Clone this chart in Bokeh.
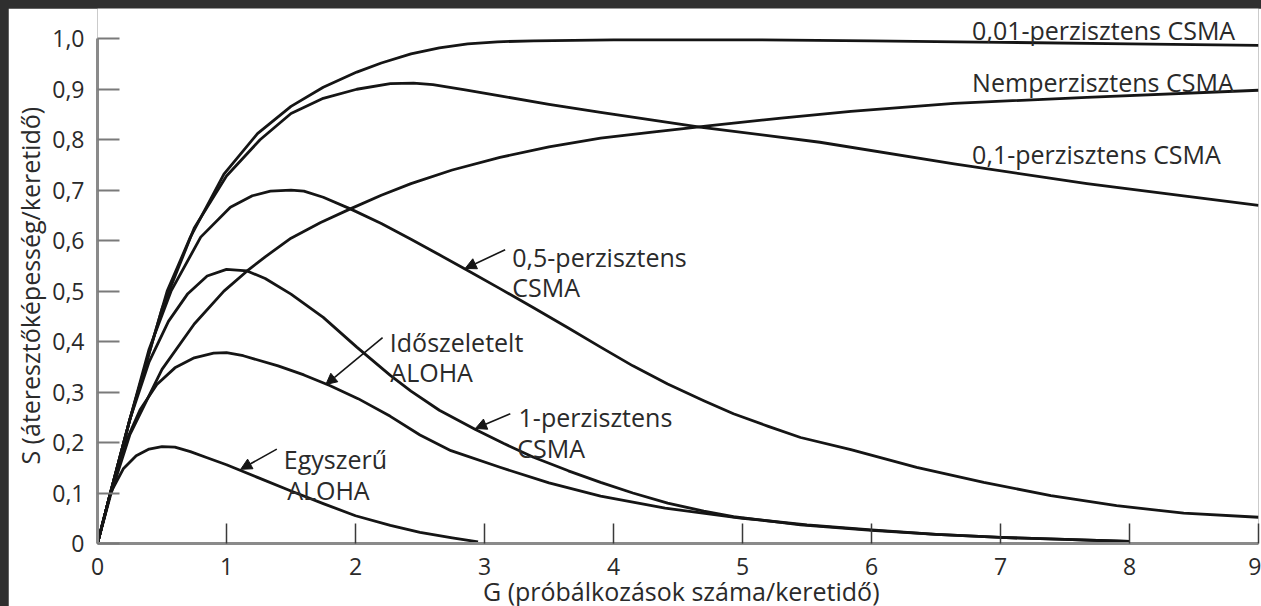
from bokeh.plotting import figure
from bokeh.models import Range1d, FixedTicker, CustomJSTickFormatter, Arrow, NormalHead
from bokeh.core.properties import value
from bokeh.embed import file_html
from bokeh.resources import INLINE

# ---------------- data ----------------
x_ticks = [0, 1, 2, 3, 4, 5, 6, 7, 8, 9]
y_ticks = [0, 0.1, 0.2, 0.3, 0.4, 0.5, 0.6, 0.7, 0.8, 0.9, 1.0]
y_tick_labels = ["0", "0,1", "0,2", "0,3", "0,4", "0,5", "0,6", "0,7", "0,8", "0,9", "1,0"]

x_title = "G (próbálkozások száma/keretidő)"
y_title = "S (áteresztőképesség/keretidő)"

pure_g = [0, 0.05, 0.1, 0.2, 0.3, 0.4, 0.5, 0.6, 0.72, 0.85, 1.0, 1.24, 1.5, 1.75, 2.0, 2.27, 2.5, 2.75, 2.95]
pure_s = [0, 0.05, 0.1, 0.148, 0.174, 0.187, 0.192, 0.191, 0.182, 0.17, 0.156, 0.131, 0.104, 0.079, 0.055, 0.036, 0.022, 0.011, 0.003]

slotted_g = [0, 0.1, 0.2, 0.33, 0.46, 0.6, 0.75, 0.9, 1.0, 1.13, 1.4, 1.6, 1.8, 2.02, 2.27, 2.5, 2.74, 3.12, 3.5, 3.9, 4.4, 5.0, 5.5, 6.0, 6.5, 7.0, 7.5, 8.0]
slotted_s = [0, 0.1, 0.19, 0.265, 0.315, 0.348, 0.368, 0.377, 0.378, 0.372, 0.352, 0.334, 0.313, 0.287, 0.252, 0.215, 0.184, 0.151, 0.12, 0.094, 0.07, 0.05, 0.037, 0.027, 0.018, 0.012, 0.008, 0.004]

p1_g = [0, 0.1, 0.25, 0.4, 0.55, 0.7, 0.85, 1.0, 1.16, 1.3, 1.5, 1.75, 2.01, 2.27, 2.43, 2.65, 2.93, 3.15, 3.38, 3.65, 3.9, 4.15, 4.42, 4.7, 4.93, 5.45, 6.0, 6.5, 7.0, 7.5, 8.0]
p1_s = [0, 0.1, 0.245, 0.36, 0.44, 0.495, 0.53, 0.543, 0.54, 0.525, 0.494, 0.448, 0.389, 0.333, 0.302, 0.264, 0.226, 0.198, 0.171, 0.144, 0.121, 0.1, 0.08, 0.064, 0.053, 0.037, 0.026, 0.018, 0.012, 0.008, 0.004]

p05_g = [0, 0.1, 0.25, 0.4, 0.57, 0.8, 1.03, 1.2, 1.34, 1.5, 1.6, 1.75, 1.96, 2.2, 2.43, 2.65, 2.87, 3.12, 3.38, 3.65, 3.9, 4.15, 4.42, 4.7, 4.93, 5.2, 5.45, 5.84, 6.35, 6.87, 7.39, 7.9, 8.42, 9.0]
p05_s = [0, 0.1, 0.245, 0.385, 0.5, 0.607, 0.666, 0.689, 0.698, 0.7, 0.698, 0.686, 0.663, 0.634, 0.603, 0.572, 0.541, 0.505, 0.467, 0.427, 0.389, 0.352, 0.316, 0.283, 0.257, 0.232, 0.21, 0.186, 0.151, 0.121, 0.095, 0.075, 0.06, 0.052]

p01_g = [0, 0.1, 0.25, 0.5, 0.75, 1.0, 1.26, 1.5, 1.75, 2.01, 2.27, 2.45, 2.6, 2.85, 3.12, 3.5, 3.9, 4.67, 5.6, 6.64, 7.67, 9.0]
p01_s = [0, 0.1, 0.245, 0.465, 0.625, 0.728, 0.8, 0.852, 0.882, 0.9, 0.911, 0.912, 0.909, 0.899, 0.887, 0.87, 0.854, 0.825, 0.795, 0.752, 0.713, 0.67]

p001_g = [0, 0.1, 0.25, 0.54, 0.72, 0.98, 1.24, 1.5, 1.75, 2.01, 2.2, 2.43, 2.65, 2.87, 3.1, 3.38, 4.0, 5.0, 6.0, 7.0, 8.0, 9.0]
p001_s = [0, 0.1, 0.245, 0.5, 0.607, 0.732, 0.812, 0.866, 0.904, 0.934, 0.952, 0.97, 0.982, 0.99, 0.994, 0.996, 0.998, 0.998, 0.996, 0.993, 0.99, 0.987]

nonp_g = [0, 0.1, 0.25, 0.5, 0.75, 0.98, 1.16, 1.3, 1.5, 1.73, 1.96, 2.2, 2.43, 2.75, 3.12, 3.5, 3.9, 4.3, 4.75, 5.3, 5.84, 6.64, 7.67, 9.0]
nonp_s = [0, 0.095, 0.215, 0.345, 0.435, 0.5, 0.54, 0.568, 0.605, 0.636, 0.663, 0.69, 0.713, 0.74, 0.765, 0.786, 0.803, 0.815, 0.828, 0.843, 0.856, 0.872, 0.884, 0.898]

label_texts = ["0,01-perzisztens CSMA", "Nemperzisztens CSMA", "0,1-perzisztens CSMA",
               "0,5-perzisztens", "CSMA", "Időszeletelt", "ALOHA",
               "1-perzisztens", "CSMA", "Egyszerű", "ALOHA"]

# ---------------- figure ----------------
FONT = "Open Sans"
INK = "#151515"
TXT = "#2a2a2a"
NB = "\u00a0"

p = figure(frame_width=1161, frame_height=535, output_backend="svg", toolbar_location=None,
           x_range=Range1d(0, 9), y_range=Range1d(0, 1.06),
           min_border_left=89, min_border_right=3, min_border_top=0, min_border_bottom=0)
p.background_fill_color = "white"
p.border_fill_color = "white"
p.outline_line_color = None
p.xgrid.visible = False
p.ygrid.visible = False

for g, s in [(pure_g, pure_s), (slotted_g, slotted_s), (p1_g, p1_s), (p05_g, p05_s),
             (p01_g, p01_s), (p001_g, p001_s), (nonp_g, nonp_s)]:
    p.line(g, s, line_color=INK, line_width=2.8, line_join="round")

# axes
xa = p.xaxis[0]
xa.ticker = FixedTicker(ticks=x_ticks)
xa.bounds = (0, 9)
xa.axis_line_color = "#8a8a8a"
xa.axis_line_width = 3
xa.major_tick_in = 20
xa.major_tick_out = 0
xa.major_tick_line_color = "#3a3a3a"
xa.major_tick_line_width = 1.5
xa.minor_tick_line_color = None
xa.major_label_text_font = FONT
xa.major_label_text_font_size = "23px"
xa.major_label_text_color = TXT
xa.major_label_standoff = 14
xa.axis_label = NB + x_title
xa.axis_label_text_font = FONT
xa.axis_label_text_font_size = "25px"
xa.axis_label_text_font_style = "normal"
xa.axis_label_text_color = TXT
xa.axis_label_standoff = -4

ya = p.yaxis[0]
ya.ticker = FixedTicker(ticks=y_ticks)
ya.formatter = CustomJSTickFormatter(args=dict(tvals=y_ticks, tlabels=y_tick_labels), code="""
    for (let i = 0; i < tvals.length; i++) {
        if (Math.abs(tvals[i] - tick) < 1e-9) { return tlabels[i]; }
    }
    return '';
""")
ya.bounds = (0, 1.0)
ya.axis_line_color = "#8a8a8a"
ya.axis_line_width = 3
ya.major_tick_in = 22
ya.major_tick_out = 0
ya.major_tick_line_color = "#7a7a7a"
ya.major_tick_line_width = 2
ya.minor_tick_line_color = None
ya.major_label_text_font = FONT
ya.major_label_text_font_size = "23px"
ya.major_label_text_color = TXT
ya.major_label_standoff = 13
ya.axis_label = y_title + NB * 3
ya.axis_label_text_font = FONT
ya.axis_label_text_font_size = "25px"
ya.axis_label_text_font_style = "normal"
ya.axis_label_text_color = TXT
ya.axis_label_standoff = 2

# annotation texts (positions are label placements in data units)
lx = [6.78, 6.78, 6.78, 3.215, 3.215, 2.266, 2.27, 3.264, 3.254, 1.444, 1.47]
ly = [1.017, 0.914, 0.772, 0.567, 0.5075, 0.3985, 0.339, 0.25, 0.19, 0.168, 0.106]
p.text(x=lx, y=ly, text=label_texts, text_font=value(FONT), text_font_size="25px",
       text_color=TXT, text_align="left", text_baseline="alphabetic")

# arrows: (start x, start y, end x, end y)
arrows = [(3.16, 0.582, 2.85, 0.545),
          (2.21, 0.408, 1.77, 0.315),
          (3.2, 0.257, 2.93, 0.228),
          (1.39, 0.187, 1.11, 0.147)]
for xs, ys, xe, ye in arrows:
    p.add_layout(Arrow(end=NormalHead(size=11, fill_color=INK, line_color=INK, line_width=1),
                       x_start=xs, y_start=ys, x_end=xe, y_end=ye,
                       line_color=INK, line_width=1.6))

html = file_html(p, INLINE)
css = ("<style>html { background-color: #2f2f2f; overflow: hidden; } "
       "body { margin: 8px 0 0 8px; overflow: hidden; }</style></head>")
html = html.replace("</head>", css, 1)
open("out.html", "w").write(html)
